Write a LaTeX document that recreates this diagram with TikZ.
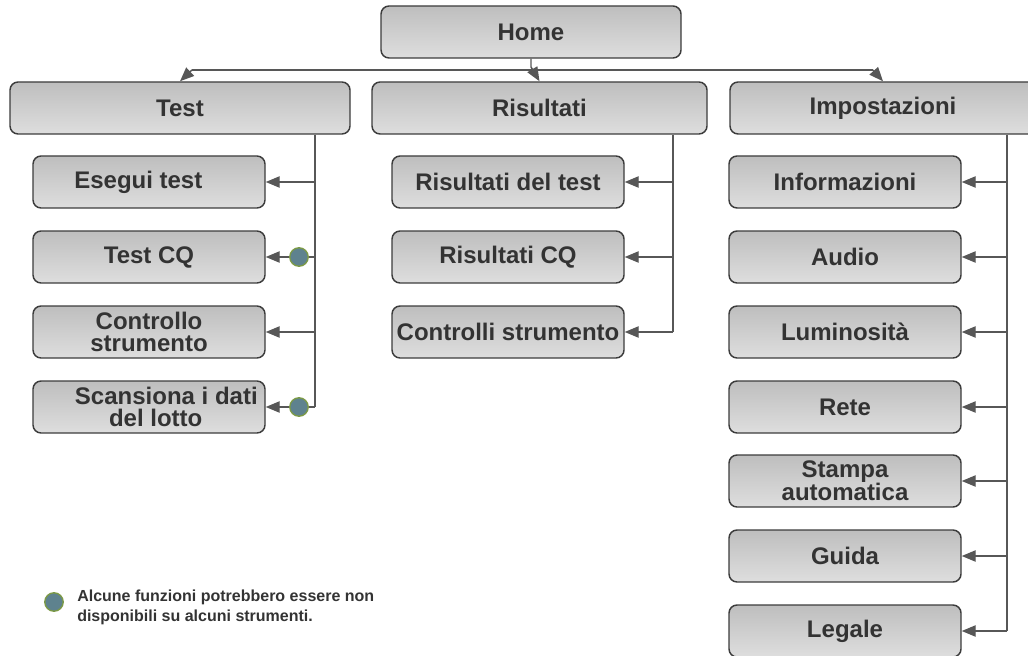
\documentclass[tikz,border=0pt]{standalone}
\usepackage{fontspec}
\setmainfont{Liberation Sans}[BoldFont={Liberation Sans Bold}]
\usetikzlibrary{arrows.meta}

\definecolor{boxtop}{HTML}{BEBEBE}
\definecolor{boxbot}{HTML}{DEDEDE}
\definecolor{boxedge}{HTML}{3C3C3C}
\definecolor{ink}{HTML}{333333}
\definecolor{linegray}{HTML}{575757}
\definecolor{dotfill}{HTML}{5E828E}
\definecolor{dotrim}{HTML}{7C9A45}

\tikzset{
  menubox/.style={draw=boxedge, line width=1.1pt, rounded corners=6pt,
    top color=boxtop, bottom color=boxbot, minimum height=39pt,
    inner sep=0pt, align=center, text=ink,
    font=\fontsize{18}{17}\selectfont\bfseries},
  subbox/.style={menubox, minimum width=174pt},
  wire/.style={draw=linegray, line width=1.1pt},
  tip/.style={wire, -{Triangle[length=10.5pt,width=8.5pt]}},
  flag/.style={circle, fill=dotfill, draw=dotrim, line width=1pt,
    minimum size=13.9pt, inner sep=0pt},
}

\begin{document}
\begin{tikzpicture}[x=0.75pt, y=-0.75pt]
\useasboundingbox (0,0) rectangle (1028,656);
\clip (0,0) rectangle (1028,656);

% top level
\node[menubox, minimum width=225pt] (home) at (531,32) {Home};
\node[menubox, minimum width=255pt] (test) at (180,108) {Test};
\node[menubox, minimum width=251.25pt] (ris) at (539.5,108) {Risultati};
\node[menubox, minimum width=229.5pt] (imp) at (883,108) {Impostazioni};

% Test branch
\node[subbox] (esegui) at (149,182) {Esegui test\hspace*{16pt}};
\node[subbox] (tcq) at (149,257) {Test CQ};
\node[subbox] (ctrl) at (149,332) {Controllo\\strumento};
\node[subbox] (scan) at (149,407) {\hspace*{26pt}Scansiona i dati\\\hspace*{10pt}del lotto};

% Risultati branch
\node[subbox] (rtest) at (508,182) {Risultati del test};
\node[subbox] (rcq) at (508,257) {Risultati CQ};
\node[subbox] (rctrl) at (508,332) {Controlli strumento};

% Impostazioni branch
\node[subbox] (info) at (845,182) {Informazioni};
\node[subbox] (audio) at (845,257) {Audio};
\node[subbox] (lum) at (845,332) {Luminosità};
\node[subbox] (rete) at (845,407) {Rete};
\node[subbox] (stampa) at (845,481) {Stampa\\automatica};
\node[subbox] (guida) at (845,556) {Guida};
\node[subbox] (legale) at (845,631) {Legale};

% bus below Home
\coordinate (hbend) at (531,67);
\coordinate (busL) at (192,70);
\coordinate (busR) at (873,70);
\draw[wire] (busL) -- (busR);
\draw[tip] (home.south) -- (hbend) -- (ris.north);
\draw[tip] (busL) -- (test.north);
\draw[tip] (busR) -- (imp.north);

% trunk columns
\coordinate (tcol) at (315,0);
\coordinate (fcol) at (299,0);
\coordinate (rcol) at (673,0);
\coordinate (icol) at (1007,0);

% Test connectors
\draw[wire] (test.south -| tcol) -- (scan.east -| tcol);
\draw[tip] (esegui.east -| tcol) -- (esegui.east);
\draw[tip] (ctrl.east -| tcol) -- (ctrl.east);
\node[flag] (f1) at (tcq.east -| fcol) {};
\node[flag] (f2) at (scan.east -| fcol) {};
\draw[wire] (tcq.east -| tcol) -- (f1);
\draw[wire] (scan.east -| tcol) -- (f2);
\draw[tip] (f1) -- (tcq.east);
\draw[tip] (f2) -- (scan.east);

% Risultati connectors
\draw[wire] (ris.south -| rcol) -- (rctrl.east -| rcol);
\foreach \n in {rtest, rcq, rctrl}
  \draw[tip] (\n.east -| rcol) -- (\n.east);

% Impostazioni connectors
\draw[wire] (imp.south -| icol) -- (legale.east -| icol);
\foreach \n in {info, audio, lum, rete, stampa, guida, legale}
  \draw[tip] (\n.east -| icol) -- (\n.east);

% legend
\node[flag] (key) at (54,602) {};
\node[anchor=west, align=left, inner sep=0pt, text=ink,
  font=\fontsize{12}{15}\selectfont\bfseries] (keytext) at (77,607)
  {Alcune funzioni potrebbero essere non\\disponibili su alcuni strumenti.};
\end{tikzpicture}
\end{document}
